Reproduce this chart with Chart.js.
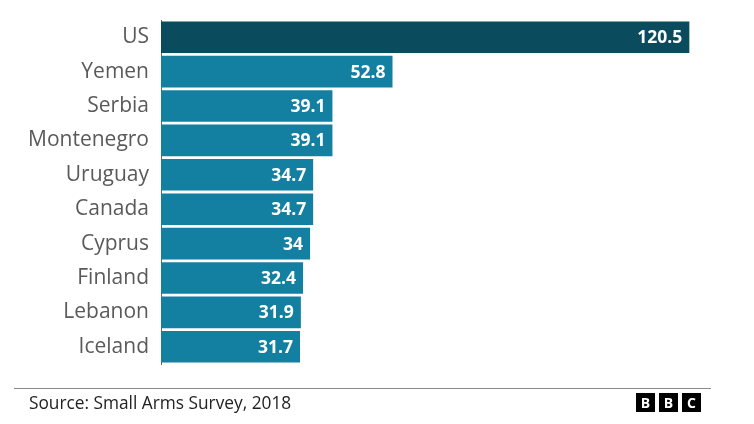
<!DOCTYPE html>
<html>
<head>
<meta charset="utf-8">
<script src="https://cdn.jsdelivr.net/npm/chart.js@4.4.1/dist/chart.umd.min.js"></script>
<style>
  html, body { margin: 0; padding: 0; background: #fff; }
  #wrap { position: relative; width: 754px; height: 424px; font-family: "Open Sans", sans-serif; }
  #chart { position: absolute; left: 0; top: 0; }
  #rule { position: absolute; left: 14px; top: 388px; width: 697px; height: 1px; background: #8a8a8a; }
  #source { position: absolute; left: 29px; top: 391px; font-size: 17.3px; color: #222; }
  #logo { position: absolute; left: 636px; top: 393px; display: flex; gap: 4px; }
  #logo span { width: 19px; height: 19px; background: #000; color: #fff; font: bold 14px "Open Sans", sans-serif; display: flex; align-items: center; justify-content: center; }
</style>
</head>
<body>
<div id="wrap">
  <canvas id="chart" width="754" height="424"></canvas>
  <div id="rule"></div>
  <div id="source">Source: Small Arms Survey, 2018</div>
  <div id="logo"><span>B</span><span>B</span><span>C</span></div>
</div>
<script>
var countries = ["US", "Yemen", "Serbia", "Montenegro", "Uruguay", "Canada", "Cyprus", "Finland", "Lebanon", "Iceland"];
var gunsPer100 = [120.5, 52.8, 39.1, 39.1, 34.7, 34.7, 34, 32.4, 31.9, 31.7];
var barColours = ["#0a4b5e", "#1380a1", "#1380a1", "#1380a1", "#1380a1", "#1380a1", "#1380a1", "#1380a1", "#1380a1", "#1380a1"];

// white value labels inside the end of each bar
var valueLabels = {
  id: "valueLabels",
  afterDatasetsDraw: function (chart) {
    var ctx = chart.ctx;
    var meta = chart.getDatasetMeta(0);
    ctx.save();
    ctx.fillStyle = "#fff";
    ctx.font = "bold 17.5px 'Open Sans', sans-serif";
    ctx.textAlign = "right";
    ctx.textBaseline = "middle";
    meta.data.forEach(function (bar, i) {
      ctx.fillText(String(gunsPer100[i]), bar.x - 7, bar.y + 1);
    });
    ctx.restore();
  }
};

var ctx = document.getElementById("chart").getContext("2d");
var chart = new Chart(ctx, {
  type: "bar",
  data: {
    labels: countries,
    datasets: [{
      data: gunsPer100,
      backgroundColor: barColours,
      borderWidth: 0,
      categoryPercentage: 1,
      barPercentage: 0.92
    }]
  },
  options: {
    indexAxis: "y",
    responsive: false,
    animation: false,
    layout: { padding: { top: 20, bottom: 60, left: 0, right: 23 } },
    plugins: { legend: { display: false }, tooltip: { enabled: false } },
    scales: {
      x: { display: false, min: 0, max: 130 },
      y: {
        afterFit: function (scale) {
          scale.width = 161;
          scale.paddingTop = 0;
          scale.paddingBottom = 0;
        },
        grid: { display: false, drawTicks: false },
        border: { display: true, color: "#666", width: 1 },
        ticks: {
          padding: 12,
          color: "#5a5a5a",
          font: { family: "'Open Sans', sans-serif", size: 21 }
        }
      }
    }
  },
  plugins: [valueLabels]
});
</script>
</body>
</html>
